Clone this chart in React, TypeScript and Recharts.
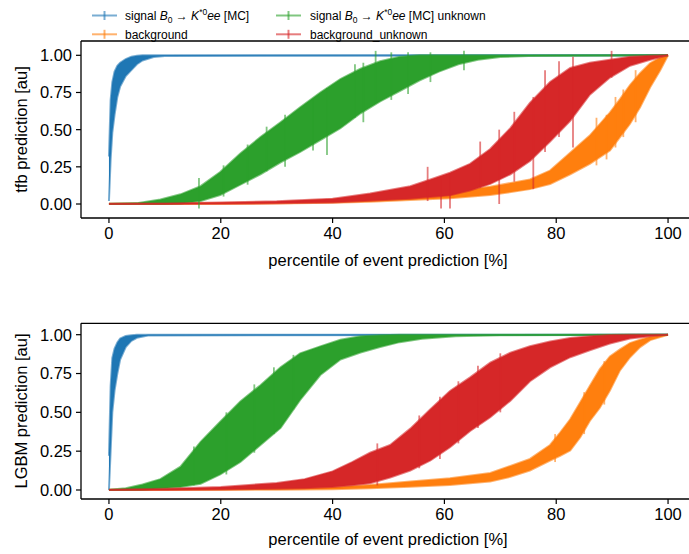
import React from 'react';
import { ComposedChart, Area, XAxis, YAxis, ReferenceLine, Scatter, ErrorBar } from 'recharts';

// [percentile %, lower edge, upper edge] of the error-bar envelope
type Band = [number, number, number][];

const percentTicks = [0, 20, 40, 60, 80, 100];
const predTicks = [0, 0.25, 0.5, 0.75, 1];
const seriesColors = ['#1f77b4', '#ff7f0e', '#2ca02c', '#d62728'];

// ---------- tfb panel ----------
const tfbSignalMC: Band = [
  [0, 0.02, 0.32], [0.3, 0.3, 0.7], [0.6, 0.48, 0.82], [1.0, 0.6, 0.89], [1.5, 0.72, 0.93],
  [2.0, 0.79, 0.95], [3.0, 0.86, 0.975], [4.0, 0.9, 0.99], [5.0, 0.94, 0.997], [6.0, 0.965, 1.0],
  [8.0, 0.988, 1.0], [10, 0.996, 1.0], [100, 1.0, 1.0],
];
const tfbBackground: Band = [
  [0, 0, 0.002], [20, 0.0, 0.006], [30, 0.003, 0.012], [40, 0.008, 0.03], [46.7, 0.016, 0.049],
  [53.9, 0.027, 0.06], [61.0, 0.038, 0.083], [68.2, 0.06, 0.116], [75.3, 0.1, 0.165],
  [78.9, 0.135, 0.225], [82.5, 0.2, 0.345], [86.0, 0.27, 0.46], [89.6, 0.36, 0.615],
  [91.4, 0.45, 0.705], [93.2, 0.54, 0.8], [95.0, 0.65, 0.88], [96.8, 0.785, 0.946],
  [98.6, 0.9, 0.986], [100, 1, 1],
];
const tfbSignalUnknown: Band = [
  [0, 0, 0.001], [5, 0, 0.006], [9.2, 0.0, 0.03], [12.8, 0.004, 0.065], [16.4, 0.02, 0.12],
  [19.9, 0.06, 0.215], [23.5, 0.13, 0.34], [27.1, 0.2, 0.45], [30.7, 0.28, 0.55],
  [34.2, 0.35, 0.65], [37.8, 0.43, 0.75], [41.4, 0.51, 0.84], [45.0, 0.61, 0.91],
  [48.5, 0.69, 0.96], [52.0, 0.76, 0.99], [55.5, 0.83, 1.0], [59.0, 0.89, 1.0],
  [62.5, 0.94, 1.0], [66.0, 0.97, 1.0], [70.0, 0.988, 1.0], [75, 0.996, 1.0], [100, 1, 1],
];
const tfbBackgroundUnknown: Band = [
  [0, 0, 0.002], [10, 0, 0.004], [20, 0.002, 0.01], [30, 0.005, 0.018], [40, 0.01, 0.035],
  [46.7, 0.022, 0.07], [53.9, 0.036, 0.12], [57.5, 0.047, 0.165], [61.0, 0.058, 0.21],
  [64.6, 0.09, 0.27], [68.2, 0.135, 0.37], [71.8, 0.2, 0.51], [75.3, 0.29, 0.68],
  [78.9, 0.42, 0.82], [82.5, 0.56, 0.915], [86.0, 0.735, 0.95], [89.6, 0.85, 0.97],
  [93.2, 0.93, 0.99], [96.8, 0.97, 0.997], [100, 1, 1],
];
// isolated long error bars visible in the tfb panel
const tfbSignalUnknownSpikes: Band = [
  [16.1, -0.03, 0.175], [20.5, 0.05, 0.26], [24.8, 0.13, 0.4], [28.2, 0.22, 0.52],
  [31.5, 0.25, 0.6], [36.5, 0.36, 0.7], [39.0, 0.33, 0.78], [44.0, 0.58, 0.94],
  [45.5, 0.55, 0.95], [47.7, 0.68, 1.03], [50.5, 0.7, 1.02], [53.5, 0.74, 1.02],
  [57.5, 0.82, 1.02], [63.5, 0.9, 1.03],
];
const tfbBackgroundSpikes: Band = [
  [87.2, 0.26, 0.58], [89.0, 0.3, 0.6], [90.6, 0.38, 0.72], [92.0, 0.45, 0.77], [94.2, 0.55, 0.9],
];
const tfbBackgroundUnknownSpikes: Band = [
  [57.0, 0.02, 0.25], [59.4, -0.03, 0.17], [61.0, -0.03, 0.2], [66.4, 0.11, 0.42],
  [69.8, 0.0, 0.5], [72.5, 0.15, 0.62], [75.9, 0.1, 0.72], [78.0, 0.35, 0.9],
  [80.5, 0.45, 0.96], [83.0, 0.38, 0.99], [89.9, 0.85, 1.03],
];

// ---------- LGBM panel ----------
const lgbmSignalMC: Band = [
  [0, 0.0, 0.22], [0.3, 0.25, 0.67], [0.6, 0.5, 0.85], [1.0, 0.64, 0.91], [1.5, 0.75, 0.95],
  [2.0, 0.84, 0.975], [3.0, 0.92, 0.992], [4.0, 0.96, 0.997], [5.0, 0.98, 1.0], [7.0, 0.995, 1.0],
  [100, 1, 1],
];
const lgbmBackground: Band = [
  [0, 0, 0.002], [20, 0, 0.008], [30, 0.002, 0.012], [40, 0.005, 0.02], [46.7, 0.011, 0.032],
  [53.9, 0.021, 0.054], [61.0, 0.032, 0.075], [68.2, 0.054, 0.11], [71.8, 0.085, 0.155],
  [75.3, 0.125, 0.2], [78.9, 0.19, 0.29], [80.7, 0.22, 0.37], [82.5, 0.255, 0.455],
  [84.3, 0.34, 0.565], [86.0, 0.445, 0.67], [87.8, 0.53, 0.778], [89.6, 0.64, 0.86],
  [91.4, 0.77, 0.905], [93.2, 0.855, 0.946], [95.0, 0.92, 0.968], [96.8, 0.965, 0.986],
  [100, 1, 1],
];
const lgbmSignalUnknown: Band = [
  [0, 0, 0.001], [3, 0, 0.012], [6, 0.002, 0.035], [9.2, 0.01, 0.07], [12.8, 0.02, 0.15],
  [16.4, 0.04, 0.31], [19.9, 0.1, 0.44], [23.5, 0.18, 0.57], [27.1, 0.29, 0.675],
  [30.7, 0.4, 0.79], [34.2, 0.58, 0.88], [37.8, 0.74, 0.925], [41.4, 0.84, 0.968],
  [45.0, 0.885, 0.99], [48.5, 0.92, 0.996], [52, 0.952, 1.0], [56, 0.974, 1.0],
  [62, 0.99, 1.0], [70, 0.997, 1.0], [100, 1, 1],
];
const lgbmBackgroundUnknown: Band = [
  [0, 0, 0.002], [10, 0, 0.008], [20, 0.003, 0.02], [30, 0.008, 0.045], [35, 0.012, 0.07],
  [40, 0.02, 0.12], [43.5, 0.03, 0.18], [46.7, 0.043, 0.24], [50.3, 0.08, 0.29],
  [53.9, 0.125, 0.395], [57.5, 0.19, 0.52], [61.0, 0.275, 0.638], [64.6, 0.38, 0.725],
  [68.2, 0.468, 0.82], [71.8, 0.575, 0.884], [75.3, 0.7, 0.926], [78.9, 0.79, 0.957],
  [82.5, 0.855, 0.978], [86.0, 0.9, 0.99], [89.6, 0.943, 0.998], [93.2, 0.976, 1.0],
  [96.8, 0.99, 1.0], [100, 1, 1],
];
// short protruding error bars along the LGBM band edges
const lgbmSignalUnknownSpikes: Band = [
  [15.2, 0.03, 0.28], [21.0, 0.1, 0.5], [26.0, 0.24, 0.68], [29.5, 0.36, 0.79], [33.0, 0.52, 0.87],
];
const lgbmBackgroundUnknownSpikes: Band = [
  [48.0, 0.03, 0.3], [55.5, 0.14, 0.48], [59.2, 0.2, 0.6], [62.5, 0.3, 0.7], [66.0, 0.4, 0.8],
  [70.0, 0.5, 0.88],
];
const lgbmBackgroundSpikes: Band = [
  [79.8, 0.18, 0.36], [85.0, 0.36, 0.63], [88.6, 0.55, 0.83],
];

const toRows = (b: Band) => b.map(([p, lo, hi]) => ({ p, r: [lo, hi] }));
const toSpikes = (b: Band) =>
  b.map(([p, lo, hi]) => ({ p, y: (lo + hi) / 2, e: [(hi - lo) / 2, (hi - lo) / 2] }));

const FONT = '"Liberation Sans", Arial, Helvetica, sans-serif';
const CHART_W = 720;

type PanelProps = {
  top: number;
  height: number;
  margin: { top: number; right: number; bottom: number; left: number };
  yDomain: [number, number];
  bands: Band[];
  spikes: (Band | null)[];
};

function Panel({ top, height, margin, yDomain, bands, spikes }: PanelProps) {
  return (
    <div style={{ position: 'absolute', left: 0, top }}>
      <ComposedChart width={CHART_W} height={height} margin={margin}>
        <XAxis
          type="number"
          dataKey="p"
          domain={[-5, 105]}
          ticks={percentTicks}
          interval={0}
          allowDataOverflow
          height={40}
          tickSize={5}
          tickMargin={4}
          axisLine={{ stroke: '#000', strokeWidth: 1.3 }}
          tickLine={{ stroke: '#000', strokeWidth: 1.2 }}
          tick={{ fill: '#000', fontSize: 16.5, fontFamily: FONT }}
        />
        <YAxis
          type="number"
          domain={yDomain}
          ticks={predTicks}
          interval={0}
          allowDataOverflow
          width={81}
          tickSize={5}
          tickMargin={4}
          tickFormatter={(v: number) => v.toFixed(2)}
          axisLine={{ stroke: '#000', strokeWidth: 1.3 }}
          tickLine={{ stroke: '#000', strokeWidth: 1.2 }}
          tick={{ fill: '#000', fontSize: 16.5, fontFamily: FONT }}
        />
        <ReferenceLine y={yDomain[1]} stroke="#000" strokeWidth={1.3} ifOverflow="visible" />
        {bands.map((b, i) => (
          <Area
            key={'a' + i}
            data={toRows(b)}
            dataKey="r"
            type="linear"
            fill={seriesColors[i]}
            fillOpacity={1}
            stroke={seriesColors[i]}
            strokeOpacity={0.6}
            strokeWidth={2}
            dot={false}
            activeDot={false}
            isAnimationActive={false}
          />
        ))}
        {spikes.map((s, i) =>
          s ? (
            <Scatter
              key={'s' + i}
              data={toSpikes(s)}
              dataKey="y"
              shape={() => null}
              isAnimationActive={false}
            >
              <ErrorBar
                dataKey="e"
                direction="y"
                width={0}
                stroke={seriesColors[i]}
                strokeOpacity={0.6}
                strokeWidth={1.8}
                isAnimationActive={false}
              />
            </Scatter>
          ) : null
        )}
      </ComposedChart>
    </div>
  );
}

function LegendMarker({ x, y, color }: { x: number; y: number; color: string }) {
  return (
    <g stroke={color} strokeOpacity={0.6} strokeWidth={2}>
      <line x1={x} y1={y} x2={x + 25} y2={y} />
      <line x1={x + 12.5} y1={y - 4.5} x2={x + 12.5} y2={y + 4.5} />
    </g>
  );
}

function SignalLabel({ x, y, suffix }: { x: number; y: number; suffix: string }) {
  return (
    <text x={x} y={y} fontSize={12} fill="#000">
      {'signal '}
      <tspan fontStyle="italic">B</tspan>
      <tspan fontSize={8.5} dy={3}>0</tspan>
      <tspan dy={-3}>{' \u2192 '}</tspan>
      <tspan fontStyle="italic">K</tspan>
      <tspan fontSize={8.5} dy={-5}>*0</tspan>
      <tspan dy={5} fontStyle="italic">ee</tspan>
      {' [MC]' + suffix}
    </text>
  );
}

export default function App() {
  return (
    <div
      style={{
        position: 'absolute',
        left: 0,
        top: 0,
        width: 689,
        height: 554,
        overflow: 'hidden',
        background: '#fff',
        fontFamily: FONT,
      }}
    >
      <Panel
        top={0}
        height={280}
        margin={{ top: 41, right: CHART_W - 696, bottom: 22, left: 0 }}
        yDomain={[-0.0941, 1.0962]}
        bands={[tfbSignalMC, tfbBackground, tfbSignalUnknown, tfbBackgroundUnknown]}
        spikes={[null, tfbBackgroundSpikes, tfbSignalUnknownSpikes, tfbBackgroundUnknownSpikes]}
      />
      <Panel
        top={280}
        height={274}
        margin={{ top: 43.3, right: CHART_W - 696, bottom: 15, left: 0 }}
        yDomain={[-0.058, 1.0734]}
        bands={[lgbmSignalMC, lgbmBackground, lgbmSignalUnknown, lgbmBackgroundUnknown]}
        spikes={[null, lgbmBackgroundSpikes, lgbmSignalUnknownSpikes, lgbmBackgroundUnknownSpikes]}
      />
      <svg
        width={689}
        height={554}
        style={{ position: 'absolute', left: 0, top: 0, pointerEvents: 'none', fontFamily: FONT }}
      >
        <LegendMarker x={92} y={15.5} color={seriesColors[0]} />
        <SignalLabel x={125} y={19.8} suffix="" />
        <LegendMarker x={92} y={34.3} color={seriesColors[1]} />
        <text x={125} y={38.6} fontSize={12} fill="#000">background</text>
        <LegendMarker x={276} y={15.5} color={seriesColors[2]} />
        <SignalLabel x={310} y={19.8} suffix=" unknown" />
        <LegendMarker x={276} y={34.3} color={seriesColors[3]} />
        <text x={310} y={38.6} fontSize={12} fill="#000">background_unknown</text>

        <text x={388} y={266} fontSize={16.5} textAnchor="middle" fill="#000">
          percentile of event prediction [%]
        </text>
        <text x={388} y={545} fontSize={16.5} textAnchor="middle" fill="#000">
          percentile of event prediction [%]
        </text>
        <text transform="translate(27,129.5) rotate(-90)" fontSize={16.5} textAnchor="middle" fill="#000">
          tfb prediction [au]
        </text>
        <text transform="translate(27,411) rotate(-90)" fontSize={16.5} textAnchor="middle" fill="#000">
          LGBM prediction [au]
        </text>
      </svg>
    </div>
  );
}
